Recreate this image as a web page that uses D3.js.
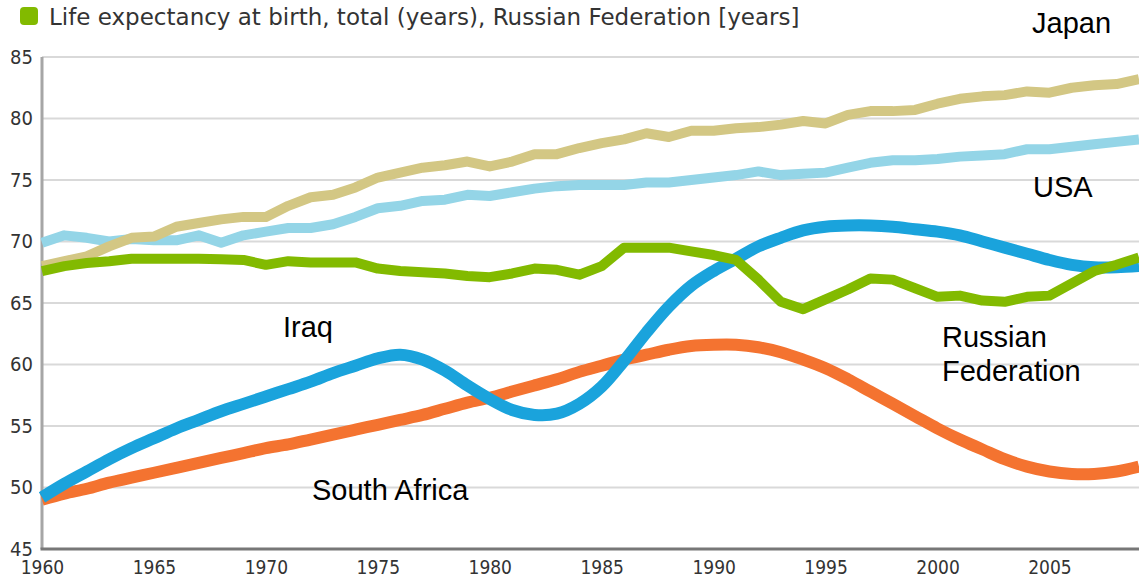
<!DOCTYPE html>
<html>
<head>
<meta charset="utf-8">
<script src="https://cdn.jsdelivr.net/npm/d3@7"></script>
<style>
  html, body { margin: 0; padding: 0; background: #fff; }
  svg { display: block; }
</style>
</head>
<body>
<svg id="chart"></svg>
<script>
// life expectancy at birth, years 1960..2009
const years = d3.range(1960, 2010);

const japan = [68.0, 68.4, 68.8, 69.6, 70.3, 70.4, 71.2, 71.5, 71.8, 72.0,
               72.0, 72.9, 73.6, 73.8, 74.4, 75.2, 75.6, 76.0, 76.2, 76.5,
               76.1, 76.5, 77.1, 77.1, 77.6, 78.0, 78.3, 78.8, 78.5, 79.0,
               79.0, 79.2, 79.3, 79.5, 79.8, 79.6, 80.3, 80.6, 80.6, 80.7,
               81.2, 81.6, 81.8, 81.9, 82.2, 82.1, 82.5, 82.7, 82.8, 83.2];

const usa = [69.9, 70.5, 70.3, 70.0, 70.2, 70.1, 70.1, 70.5, 69.9, 70.5,
             70.8, 71.1, 71.1, 71.4, 72.0, 72.7, 72.9, 73.3, 73.4, 73.8,
             73.7, 74.0, 74.3, 74.5, 74.6, 74.6, 74.6, 74.8, 74.8, 75.0,
             75.2, 75.4, 75.7, 75.4, 75.5, 75.6, 76.0, 76.4, 76.6, 76.6,
             76.7, 76.9, 77.0, 77.1, 77.5, 77.5, 77.7, 77.9, 78.1, 78.3];

const russia = [67.6, 68.0, 68.25, 68.4, 68.6, 68.6, 68.6, 68.6, 68.55, 68.5,
                68.1, 68.4, 68.3, 68.3, 68.3, 67.8, 67.6, 67.5, 67.4, 67.2,
                67.1, 67.4, 67.8, 67.7, 67.3, 68.0, 69.5, 69.5, 69.5, 69.2,
                68.9, 68.5, 66.9, 65.1, 64.5, 65.3, 66.1, 67.0, 66.9, 66.2,
                65.5, 65.6, 65.2, 65.1, 65.5, 65.6, 66.6, 67.6, 68.1, 68.7];

const iraq = [49.2, 50.3, 51.3, 52.3, 53.2, 54.0, 54.8, 55.5, 56.2, 56.8,
              57.4, 58.0, 58.6, 59.3, 59.9, 60.5, 60.8, 60.4, 59.5, 58.3,
              57.2, 56.3, 55.9, 56.0, 56.8, 58.2, 60.3, 62.6, 64.7, 66.4,
              67.6, 68.6, 69.6, 70.3, 70.9, 71.2, 71.3, 71.3, 71.2, 71.0,
              70.8, 70.5, 70.0, 69.5, 69.0, 68.5, 68.1, 67.9, 67.9, 68.0];

const southAfrica = [49.0, 49.5, 49.9, 50.4, 50.8, 51.2, 51.6, 52.0, 52.4, 52.8,
                     53.2, 53.5, 53.9, 54.3, 54.7, 55.1, 55.5, 55.9, 56.4, 56.9,
                     57.3, 57.8, 58.3, 58.8, 59.4, 59.9, 60.4, 60.8, 61.2, 61.5,
                     61.6, 61.6, 61.4, 61.0, 60.4, 59.7, 58.8, 57.8, 56.8, 55.8,
                     54.8, 53.9, 53.1, 52.3, 51.7, 51.3, 51.1, 51.1, 51.3, 51.7];

const xTicks = [1960, 1965, 1970, 1975, 1980, 1985, 1990, 1995, 2000, 2005];
const yTicks = [45, 50, 55, 60, 65, 70, 75, 80, 85];

const titleText = 'Life expectancy at birth, total (years), Russian Federation [years]';

// drawing order: bottom first
const series = [
    { name: 'South Africa', values: southAfrica, color: '#f47330', width: 12, smooth: true },
    { name: 'Iraq', values: iraq, color: '#1aa3dc', width: 12, smooth: true },
    { name: 'USA', values: usa, color: '#94d5e7', width: 10, smooth: false },
    { name: 'Japan', values: japan, color: '#d3c784', width: 10, smooth: false },
    { name: 'Russian Federation', values: russia, color: '#82ba00', width: 10, smooth: false }
];

const labels = [
    { lines: ['Japan'], x: 1032, y: 33 },
    { lines: ['USA'], x: 1033, y: 197 },
    { lines: ['Iraq'], x: 283, y: 337 },
    { lines: ['Russian', 'Federation'], x: 942, y: 347 },
    { lines: ['South Africa'], x: 312, y: 500 }
];

const width = 1139;
const height = 585;
const margin = { top: 57, right: 0, bottom: 36, left: 42 };

const svg = d3.select('#chart')
    .attr('width', width)
    .attr('height', height);

const x = d3.scaleLinear()
    .domain([1960, 2009])
    .range([margin.left, width - margin.right]);

const y = d3.scaleLinear()
    .domain([45, 85])
    .range([height - margin.bottom, margin.top]);

// gridlines
svg.append('g')
    .selectAll('line')
    .data(yTicks.filter(d => d > 45))
    .enter()
    .append('line')
    .attr('x1', margin.left)
    .attr('x2', width)
    .attr('y1', d => y(d))
    .attr('y2', d => y(d))
    .attr('stroke', '#d9d9d9')
    .attr('stroke-width', 2);

// y axis
const yAxis = svg.append('g')
    .attr('transform', `translate(${margin.left},0)`)
    .call(d3.axisLeft(y).tickValues(yTicks).tickSize(0).tickPadding(9));
yAxis.select('.domain').remove();
yAxis.selectAll('text')
    .attr('fill', '#333')
    .style('font-family', '"DejaVu Sans Condensed", "DejaVu Sans", sans-serif')
    .style('font-size', '20px');

// x axis
const xAxis = svg.append('g')
    .attr('transform', `translate(0,${y(45)})`)
    .call(d3.axisBottom(x).tickValues(xTicks).tickFormat(d3.format('d')).tickSize(0).tickPadding(12));
xAxis.select('.domain').remove();
xAxis.selectAll('text')
    .attr('fill', '#333')
    .style('font-family', '"DejaVu Sans Condensed", "DejaVu Sans", sans-serif')
    .style('font-size', '19px');

// axis lines
svg.append('line')
    .attr('x1', margin.left).attr('x2', margin.left)
    .attr('y1', y(85)).attr('y2', y(45))
    .attr('stroke', '#a6a6a6')
    .attr('stroke-width', 3);

svg.append('line')
    .attr('x1', margin.left - 1.5).attr('x2', width)
    .attr('y1', y(45)).attr('y2', y(45))
    .attr('stroke', '#777')
    .attr('stroke-width', 3);

// lines
const straight = d3.line()
    .x((d, i) => x(years[i]))
    .y(d => y(d));

const curved = d3.line()
    .x((d, i) => x(years[i]))
    .y(d => y(d))
    .curve(d3.curveCatmullRom.alpha(0.5));

svg.append('g')
    .selectAll('path')
    .data(series)
    .enter()
    .append('path')
    .attr('d', d => (d.smooth ? curved : straight)(d.values))
    .attr('fill', 'none')
    .attr('stroke', d => d.color)
    .attr('stroke-width', d => d.width)
    .attr('stroke-linejoin', 'round')
    .attr('stroke-linecap', 'butt');

// legend / title
svg.append('rect')
    .attr('x', 20)
    .attr('y', 7)
    .attr('width', 18)
    .attr('height', 18)
    .attr('rx', 4)
    .attr('fill', '#82ba00');

svg.append('text')
    .attr('x', 49)
    .attr('y', 25)
    .attr('fill', '#333')
    .style('font-family', '"DejaVu Sans", sans-serif')
    .style('font-size', '23px')
    .text(titleText);

// country labels
const lbl = svg.append('g')
    .selectAll('text')
    .data(labels)
    .enter()
    .append('text')
    .attr('x', d => d.x)
    .attr('y', d => d.y)
    .attr('fill', '#000')
    .style('font-family', '"Liberation Sans", Arial, sans-serif')
    .style('font-size', '29px');

lbl.selectAll('tspan')
    .data(d => d.lines.map((t, i) => ({ t, i, x: d.x })))
    .enter()
    .append('tspan')
    .attr('x', d => d.x)
    .attr('dy', d => d.i === 0 ? 0 : 34)
    .text(d => d.t);
</script>
</body>
</html>
